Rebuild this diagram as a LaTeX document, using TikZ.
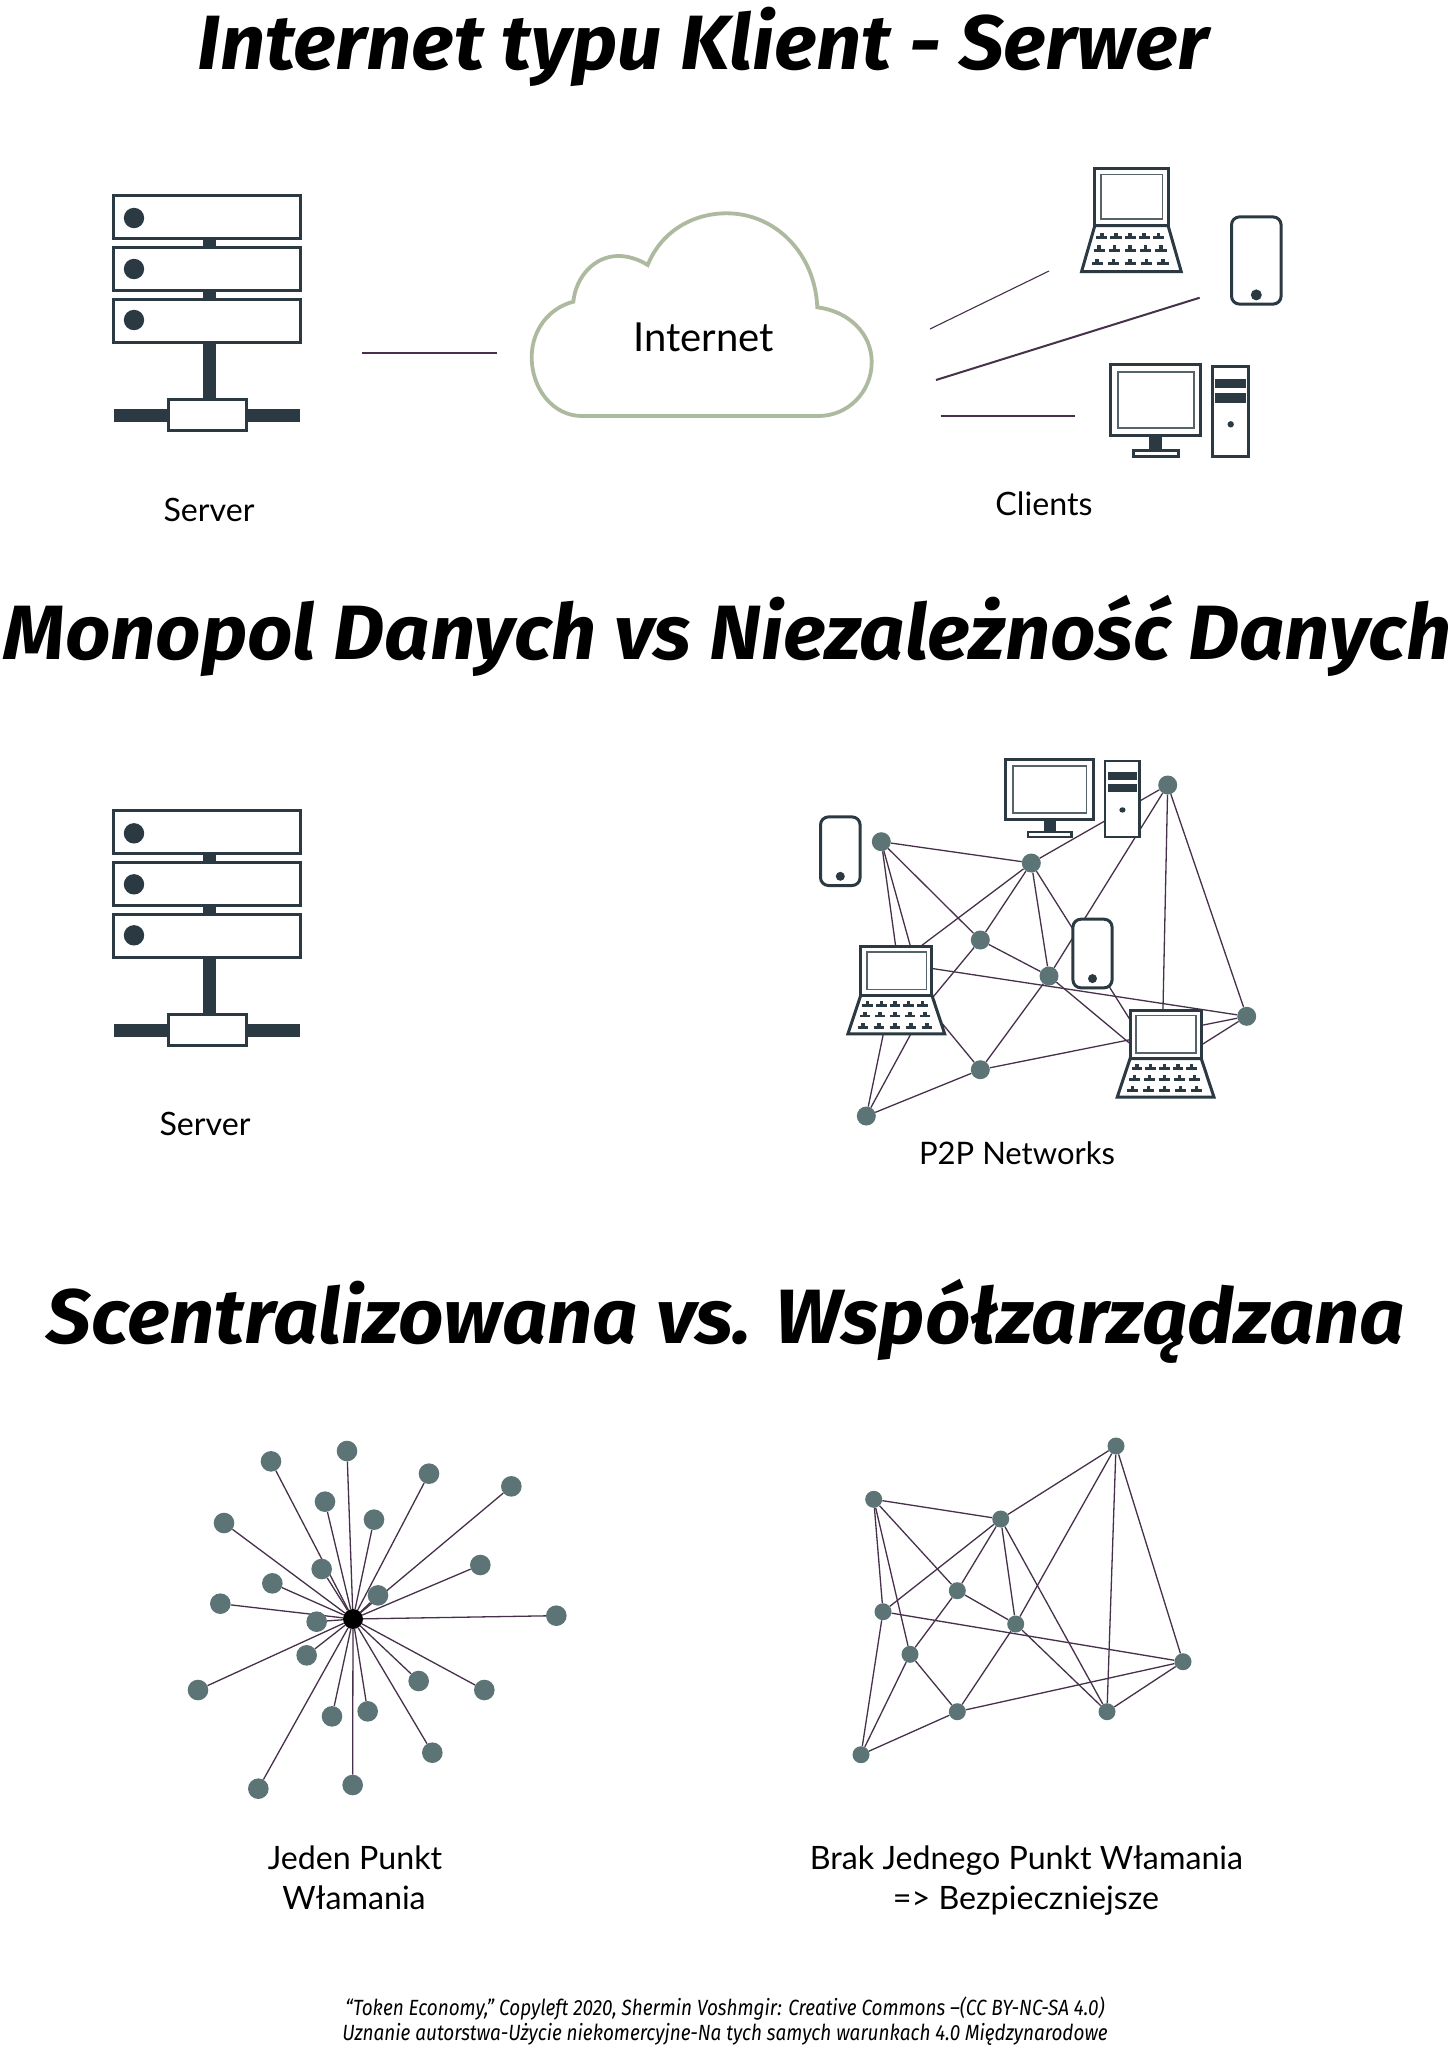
\documentclass[tikz,border=0pt]{standalone}
\usepackage{fontspec}
\setmainfont{Lato}
\newfontfamily\titlefont[FakeStretch=1.03]{Fira Sans}
\newfontfamily\notefont[FakeStretch=0.86]{Fira Sans}
\definecolor{devdark}{HTML}{2B3A42}
\definecolor{devgray}{HTML}{566469}
\definecolor{dotcol}{HTML}{5C7475}
\definecolor{edgecol}{HTML}{46304A}
\definecolor{cloudcol}{HTML}{AEBAA0}
\pgfdeclarelayer{edges}
\pgfsetlayers{edges,main}
\tikzset{
  titletext/.style={anchor=base,inner sep=0pt,font=\titlefont\bfseries\itshape\fontsize{77pt}{80pt}\selectfont},
  labeltext/.style={anchor=base,inner sep=0pt,font=\fontsize{32.2pt}{34pt}\selectfont},
  notetext/.style={anchor=base,inner sep=0pt,font=\notefont\itshape\fontsize{22pt}{24pt}\selectfont},
  devline/.style={draw=devdark,line width=3pt},
  innerline/.style={draw=devgray,line width=1.7pt},
  netdot/.style={circle,fill=dotcol,draw=none,inner sep=0pt,minimum size=17pt},
  stardot/.style={circle,fill=dotcol,draw=none,inner sep=0pt,minimum size=20.6pt},
  hubdot/.style={circle,fill=black,draw=none,inner sep=0pt,minimum size=20pt},
  netedge/.style={draw=edgecol,line width=1.3pt},
  thinlink/.style={draw=edgecol,line width=1.1pt},
  thicklink/.style={draw=edgecol,line width=2pt}
}
\newcommand\serverpic[1]{\begin{scope}[shift={(0,#1)}]
  \fill[devdark] (203,236) rectangle (215.7,402);
  \fill[devdark] (114,409) rectangle (300,422);
  \draw[devline,fill=white] (168.5,399.5) rectangle (246,430);
  \foreach \t/\b/\d in {195.5/238.5/218,247.5/290.5/269,299.5/342/320}{
    \draw[devline,fill=white] (113.5,\t) rectangle (300,\b);
    \fill[devdark] (134,\d) circle (10.2);
  }
\end{scope}}
\newcommand\laptopicon[4]{\begin{scope}[shift={(#1,#2)},xscale=#3,yscale=#4]
  \draw[devline,fill=white] (1.1,49.5) -- (72.2,49.5) -- (85,88.2) -- (-11.8,88.2) -- cycle;
  \draw[devline,fill=white] (1.1,1.1) rectangle (72.2,49.5);
  \draw[innerline] (7.3,6.6) rectangle (66.7,43.7);
  \foreach \ky/\xs in {58.3/13.7,69/15,80.3/16}{
    \foreach \k in {-2,...,2}{
      \fill[devdark] ({35.3+\k*\xs-5.4},\ky) rectangle +(10.8,2.5);
      \fill[devdark] ({35.3+\k*\xs-1.7},{\ky-3}) rectangle +(3.4,3.2);
    }
  }
\end{scope}}
\newcommand\desktopicon[4]{\begin{scope}[shift={(#1,#2)},xscale=#3,yscale=#4]
  \fill[devdark] (40,73) rectangle (52.7,87);
  \draw[devline,line width=2.4pt,fill=white] (24,87) rectangle (69,93);
  \draw[devline,fill=white] (1.3,1.3) rectangle (91.4,72);
  \draw[innerline] (8.4,8.4) rectangle (84.4,64.4);
  \draw[devline,line width=2.6pt,fill=white] (103.2,2.9) rectangle (139.2,93.2);
  \fill[devdark] (106,15.4) rectangle (136.7,25);
  \fill[devdark] (106,29.7) rectangle (136.7,39.4);
  \fill[devdark] (121.4,61) circle (3.2);
\end{scope}}
\newcommand\phoneicon[5]{% left top right bottom dotr
  \draw[devline,rounded corners=8pt,fill=white] (#1+1.2,#2+1.2) rectangle (#3-1.2,#4-1.2);
  \fill[devdark] ({(#1+#3)/2},#4-10.4) circle (#5);
}
\begin{document}
\begin{tikzpicture}[x=1pt,y=-1pt]
\useasboundingbox (0,0) rectangle (1450,2046);
\begin{pgfonlayer}{edges}
\fill[white] (0,0) rectangle (1450,2046);
\end{pgfonlayer}
% titles
\node[titletext] (title1) at (703,69) {Internet typu Klient - Serwer};
\node[titletext] (title2) at (727.5,659) {Monopol Danych vs Niezależność Danych};
\node[titletext] (title3) at (726,1343) {Scentralizowana vs. Współzarządzana};
% section 1
\serverpic{0}
\coordinate (l1a) at (362.3,353); \coordinate (l1b) at (496.7,353);
\draw[thinlink] (l1a) -- (l1b);
\draw[draw=cloudcol,line width=3.8pt,fill=white] (581.7,416) -- (818.3,416)
  .. controls (848,416) and (871.7,392) .. (871.7,362)
  .. controls (871.7,333) and (848,311) .. (817.3,307.3)
  .. controls (815,253) and (775,213.3) .. (726.7,213.3)
  .. controls (690,213.3) and (660,234) .. (647.7,265)
  .. controls (638,259) and (628,256) .. (618.3,256)
  .. controls (595,256) and (576,276) .. (573.3,301.7)
  .. controls (549,308) and (531.7,330) .. (531.7,357)
  .. controls (531.7,390) and (554,416) .. (581.7,416) -- cycle;
\node[labeltext,font=\fontsize{40pt}{42pt}\selectfont] (internet) at (703.5,351) {Internet};
\coordinate (c1a) at (930,329); \coordinate (c1b) at (1049,271);
\coordinate (c2a) at (936,380); \coordinate (c2b) at (1199.7,297.7);
\coordinate (c3a) at (940.7,416); \coordinate (c3b) at (1074.7,416);
\draw[thinlink] (c1a) -- (c1b);
\draw[thicklink] (c2a) -- (c2b);
\draw[thinlink] (c3a) -- (c3b);
\laptopicon{1093.7}{166.7}{1.03}{1.19}
\phoneicon{1230.3}{215.7}{1282.3}{305.3}{5.5}
\desktopicon{1109.3}{363.3}{1}{1}
\node[labeltext] (server1) at (209,521.7) {Server};
\node[labeltext] (clients) at (1044,515.5) {Clients};
% section 2
\serverpic{615.3}
\node[labeltext] (server2) at (205,1135.3) {Server};
\foreach \n/\x/\y in {pA/881.3/841.7,pB/1031.3/863,pC/1167.7/785,pD/898/963.3,pE/980.3/940,pF/1049/976,pG/926.7/1004.7,pH/980.3/1069.7,pI/866.3/1116,pJ/1161.7/1070,pK/1246.7/1016.3}
  \node[netdot,minimum size=19pt] (\n) at (\x,\y) {};
\begin{pgfonlayer}{edges}
\foreach \a/\b in {A/B,A/D,A/G,A/E,B/C,B/D,B/E,B/F,B/J,C/F,C/J,C/K,D/K,D/I,E/F,E/G,F/H,F/J,G/H,G/I,H/I,H/K,J/K}
  \draw[netedge] (p\a) -- (p\b);
\end{pgfonlayer}
\laptopicon{859.7}{945.7}{1}{1}
\laptopicon{1129}{1009}{1}{1}
\phoneicon{819.3}{815.7}{861.3}{886.7}{4.5}
\phoneicon{1071.7}{918}{1113.3}{989}{4.5}
\desktopicon{1004.7}{758.7}{0.97}{0.84}
\node[labeltext,font=\fontsize{31pt}{34pt}\selectfont] (p2p) at (1017,1164) {P2P Networks};
% section 3, star
\node[hubdot] (hub) at (353,1619) {};
\foreach \i/\x/\y in {1/303/124,2/531/93,3/777/161,4/1024/199,5/162/309,6/465/245,7/612/299,8/931/435,9/455/447,10/307/490,11/624/526,12/151/551,13/440/605,14/1159/587,15/410/706,16/84/810,17/746/783,18/943/810,19/486/889,20/593/874,21/787/998,22/265/1106,23/548/1095}{
  \node[stardot] (s\i) at ({170+\x/3},{1420+\y/3}) {};
  \begin{pgfonlayer}{edges}
    \draw[netedge] (hub) -- (s\i);
  \end{pgfonlayer}
}
\node[labeltext] (jeden) at (355,1869) {Jeden Punkt};
\node[labeltext] (wlam) at (354,1909) {Włamania};
% section 3, mesh
\foreach \n/\x/\y in {mA/873.7/1499.3,mB/1000.7/1519,mC/1116/1446,mD/883/1611.7,mE/957.3/1590.7,mF/1015.7/1624,mG/910/1654.3,mH/957.3/1711.7,mI/861/1754.7,mJ/1107/1711.7,mK/1183/1661.7}
  \node[netdot] (\n) at (\x,\y) {};
\begin{pgfonlayer}{edges}
\foreach \a/\b in {A/B,A/D,A/G,A/E,B/C,B/D,B/E,B/F,B/J,C/F,C/J,C/K,D/K,D/I,E/F,E/G,F/H,F/J,G/H,G/I,H/I,H/K,J/K}
  \draw[netedge] (m\a) -- (m\b);
\end{pgfonlayer}
\node[labeltext] (brak) at (1026.5,1869) {Brak Jednego Punkt Włamania};
\node[labeltext] (bezp) at (1026,1909) {=> Bezpieczniejsze};
% footer
\node[notetext] (note1) at (725,2015) {“Token Economy,” Copyleft 2020, Shermin Voshmgir: Creative Commons –(CC BY-NC-SA 4.0)};
\node[notetext] (note2) at (725,2040) {Uznanie autorstwa-Użycie niekomercyjne-Na tych samych warunkach 4.0 Międzynarodowe};
\end{tikzpicture}
\end{document}
